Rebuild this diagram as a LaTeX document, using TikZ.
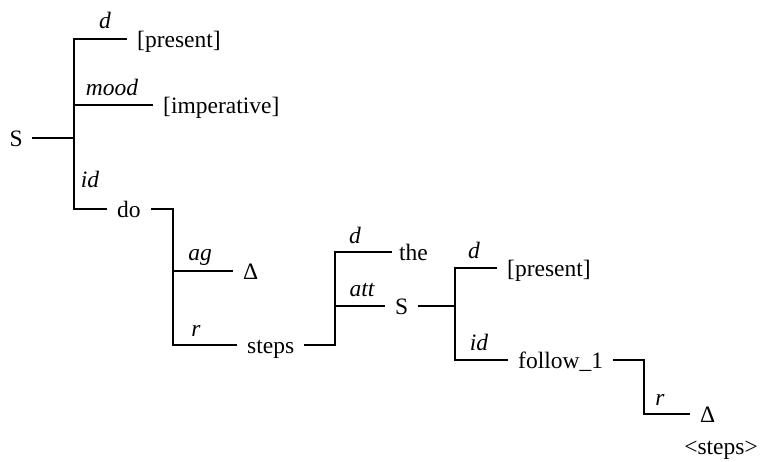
\documentclass[tikz,border=0pt]{standalone}
\usepackage{fontspec}
\setmainfont{Liberation Serif}
\begin{document}
\begin{tikzpicture}[x=1pt,y=-1pt,
  every node/.style={font=\fontsize{23.5}{28}\selectfont},
  word/.style={inner ysep=0pt, inner xsep=10pt, text height=18pt, text depth=2pt},
  lab/.style={anchor=base, inner sep=0pt, font=\fontsize{23.5}{28}\selectfont\itshape},
  tree/.style={line width=1.1pt}]
\useasboundingbox (0,0) rectangle (760,461);
% level 1
\node[word, anchor=east, inner xsep=9pt] (rootS) at (32,138) {S};
\coordinate (j1) at (74,138);
\coordinate (v1t) at (74,39);
\coordinate (v1m) at (74,105);
\coordinate (v1b) at (74,209);
\node[word, anchor=west] (pres1) at (127,39) {[present]};
\node[word, anchor=west] (imp) at (153,105) {[imperative]};
\node[word, anchor=west] (do) at (107,209) {do};
\draw[tree] (rootS.east) -- (j1);
\draw[tree] (pres1.west) -- (v1t) -- (v1b) -- (do.west);
\draw[tree] (v1m) -- (imp.west);
\node[lab] (l1) at (105,28) {d};
\node[lab] (l2) at (112,95) {mood};
\node[lab] (l3) at (90,187) {id};
% level 2
\coordinate (v2t) at (173,209);
\coordinate (v2m) at (173,271);
\coordinate (v2b) at (173,345);
\node[word, anchor=west] (delta1) at (233,271) {Δ};
\node[word, anchor=west] (steps) at (237,345) {steps};
\draw[tree] (do.east) -- (v2t) -- (v2b) -- (steps.west);
\draw[tree] (v2m) -- (delta1.west);
\node[lab] (l4) at (200,260) {ag};
\node[lab] (l5) at (196,336) {r};
% level 3
\coordinate (v3t) at (335,252);
\coordinate (v3m) at (335,306);
\coordinate (v3b) at (335,345);
\node[word, anchor=west, inner xsep=7pt] (the) at (392,252) {the};
\node[word, anchor=west] (S2) at (385,306) {S};
\draw[tree] (steps.east) -- (v3b) -- (v3t) -- (the.west);
\draw[tree] (v3m) -- (S2.west);
\node[lab] (l6) at (355,243) {d};
\node[lab] (l7) at (362,296) {att};
% level 4
\coordinate (v4t) at (455,268);
\coordinate (v4m) at (455,306);
\coordinate (v4b) at (455,360);
\node[word, anchor=west] (pres2) at (497,268) {[present]};
\node[word, anchor=west] (follow) at (508,360) {follow\_1};
\draw[tree] (S2.east) -- (v4m);
\draw[tree] (pres2.west) -- (v4t) -- (v4b) -- (follow.west);
\node[lab] (l8) at (474,258) {d};
\node[lab] (l9) at (479,350) {id};
% level 5
\coordinate (v5t) at (644,360);
\coordinate (v5b) at (644,414);
\node[word, anchor=west] (delta2) at (690,414) {Δ};
\draw[tree] (follow.east) -- (v5t) -- (v5b) -- (delta2.west);
\node[lab] (l10) at (660,405) {r};
\node[anchor=base, inner sep=0pt] (stepsref) at (721,454) {<steps>};
\end{tikzpicture}
\end{document}
